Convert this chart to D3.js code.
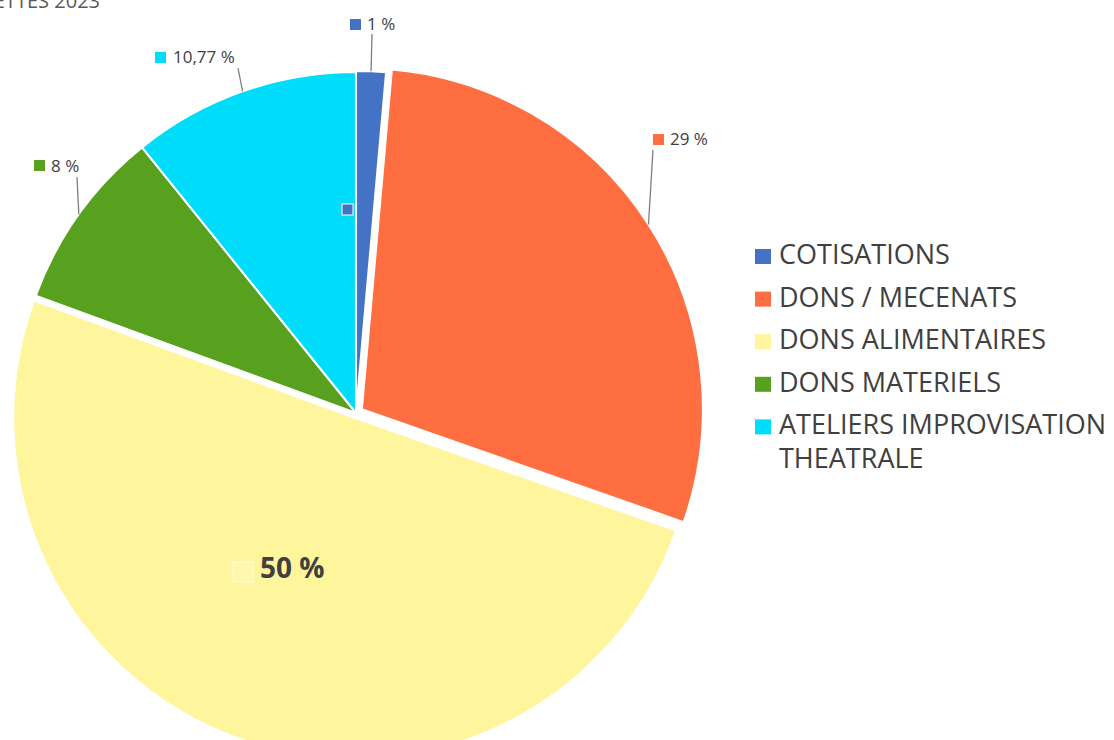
<!DOCTYPE html>
<html>
<head>
<meta charset="utf-8">
<script src="https://cdn.jsdelivr.net/npm/d3@7"></script>
<style>
  body { margin: 0; background: #fff; }
  svg { display: block; font-family: "Open Sans", sans-serif; }
</style>
</head>
<body>
<script>
// data
const categories = ["COTISATIONS", "DONS / MECENATS", "DONS ALIMENTAIRES", "DONS MATERIELS", "ATELIERS IMPROVISATION THEATRALE"];
const legendLines = [["COTISATIONS"], ["DONS / MECENATS"], ["DONS ALIMENTAIRES"], ["DONS MATERIELS"], ["ATELIERS IMPROVISATION", "THEATRALE"]];
const shares = [1.4, 28.9, 50.1, 8.6, 10.77];
const shareLabels = ["1 %", "29 %", "50 %", "8 %", "10,77 %"];
const title = "RECETTES 2023";

const WIDTH = 1114;
const HEIGHT = 740;
const CX = 356;
const CY = 413;
const RADIUS = 341;

const color = d3.scaleOrdinal()
    .domain(categories)
    .range(["#4472c4", "#ff6e40", "#fff59d", "#57a11f", "#00ddfa"]);

// how far each slice is pulled out
const explode = [1, 7, 5, 0, 0];

// where the small value labels sit (marker square x,y ; text ; leader start)
const labelLayout = [
    {sx: 350, sy: 19, tx: 367, ty: 30, lx: 372, ly: 34},
    {sx: 653, sy: 134, tx: 670, ty: 145, lx: 653, ly: 150},
    null,
    {sx: 34, sy: 160, tx: 51, ty: 172, lx: 77, ly: 177},
    {sx: 155, sy: 52, tx: 173, ty: 63, lx: 238, ly: 68}
];

var translate = function(x, y) {
    return 'translate(' + x + ',' + y + ')';
};

var svg = d3.select('body').append('svg')
    .attr('width', WIDTH)
    .attr('height', HEIGHT);

svg.append('text')
    .attr('x', 100)
    .attr('y', 8)
    .attr('text-anchor', 'end')
    .attr('font-size', 20)
    .attr('fill', '#595959')
    .text(title);

var pie = d3.pie().sort(null).value(function(d) { return d; });
var arcs = pie(shares);

var arc = d3.arc().innerRadius(0).outerRadius(RADIUS);

var offsetOf = function(d, i) {
    var mid = (d.startAngle + d.endAngle) / 2;
    return [Math.sin(mid) * explode[i], -Math.cos(mid) * explode[i]];
};

var g = svg.append('g').attr('transform', translate(CX, CY));

g.selectAll('.slice')
    .data(arcs)
    .enter()
    .append('path')
    .attr('class', 'slice')
    .attr('transform', function(d, i) {
        var o = offsetOf(d, i);
        return translate(o[0], o[1]);
    })
    .attr('d', arc)
    .attr('fill', function(d, i) { return color(categories[i]); })
    .attr('stroke', '#fff')
    .attr('stroke-width', 2);

// leader lines and small labels
arcs.forEach(function(d, i) {
    var lay = labelLayout[i];
    if (!lay) return;
    var mid = (d.startAngle + d.endAngle) / 2;
    var o = offsetOf(d, i);
    var ex = CX + o[0] + Math.sin(mid) * RADIUS;
    var ey = CY + o[1] - Math.cos(mid) * RADIUS;
    svg.append('line')
        .attr('x1', lay.lx).attr('y1', lay.ly)
        .attr('x2', ex).attr('y2', ey)
        .attr('stroke', '#7f7f7f')
        .attr('stroke-width', 1.3);
    svg.append('rect')
        .attr('x', lay.sx).attr('y', lay.sy)
        .attr('width', 11).attr('height', 11)
        .attr('fill', color(categories[i]));
    svg.append('text')
        .attr('x', lay.tx).attr('y', lay.ty)
        .attr('font-size', 17)
        .attr('fill', '#404040')
        .text(shareLabels[i]);
});

// stray marker of the first slice, left inside the cyan slice
svg.append('rect')
    .attr('x', 342).attr('y', 204)
    .attr('width', 11).attr('height', 11)
    .attr('fill', color(categories[0]))
    .attr('stroke', '#fff')
    .attr('stroke-width', 1);

// big label on the yellow slice
svg.append('rect')
    .attr('x', 233).attr('y', 562)
    .attr('width', 20).attr('height', 20)
    .attr('fill', '#fff7ad')
    .attr('stroke', '#fffbe0')
    .attr('stroke-width', 1.2);
svg.append('text')
    .attr('x', 260).attr('y', 578)
    .attr('font-size', 28)
    .attr('font-weight', 'bold')
    .attr('fill', '#404040')
    .text(shareLabels[2]);

// legend
var legend = svg.append('g').attr('transform', translate(755, 264));
legendLines.forEach(function(lines, i) {
    var row = legend.append('g').attr('transform', translate(0, i * 42.6));
    row.append('rect')
        .attr('x', 0).attr('y', -15)
        .attr('width', 16).attr('height', 15)
        .attr('fill', color(categories[i]));
    lines.forEach(function(line, j) {
        row.append('text')
            .attr('x', 24).attr('y', j * 34)
            .attr('font-size', 27)
            .attr('fill', '#404040')
            .text(line);
    });
});
</script>
</body>
</html>
